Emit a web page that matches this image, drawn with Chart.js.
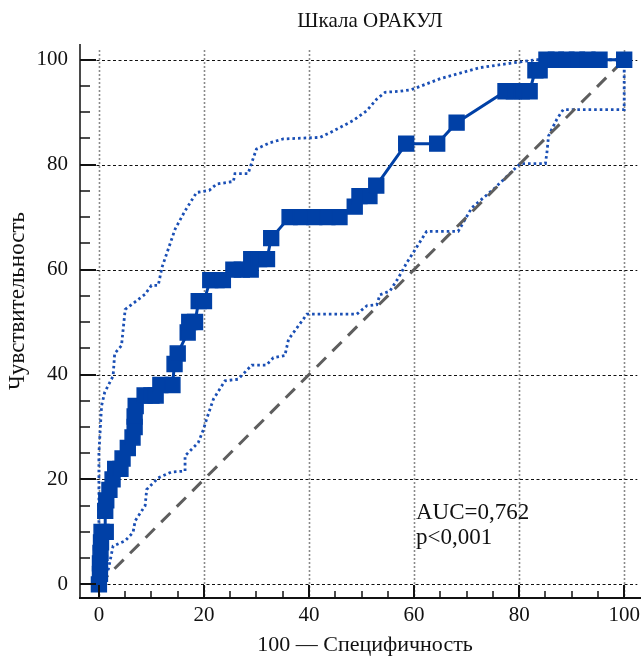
<!DOCTYPE html>
<html>
<head>
<meta charset="utf-8">
<script src="https://cdn.jsdelivr.net/npm/chart.js@4.4.1/dist/chart.umd.min.js"></script>
<style>
  html, body { margin: 0; padding: 0; background: #fff; }
  #wrap { width: 641px; height: 657px; }
</style>
</head>
<body>
<div id="wrap"><canvas id="rocChart"></canvas></div>
<script>
// ROC curve, scale "ORACUL"
const xTicks = [0, 20, 40, 60, 80, 100];
const yTicks = [0, 20, 40, 60, 80, 100];

const rocX = [0, 0.2, 0.2, 0.3, 0.4, 0.5, 1.3, 1.2, 1.4, 2.0, 2.6, 3.1, 4.1, 4.5, 5.5, 6.4, 6.8, 6.8, 7.0,
  8.7, 10.0, 10.8, 11.7, 14.0, 14.4, 15.0, 16.9, 17.2, 18.3, 19.0, 20.0, 21.2, 22.4, 23.6,
  25.6, 27.2, 28.9, 29.0, 30.5, 32.0, 32.8, 36.3, 38.5, 41.0, 43.5, 45.8, 48.7, 49.6, 51.5, 52.8,
  58.5, 64.4, 68.1, 77.4, 79.0, 80.5, 82.0, 83.1, 83.9, 85.2, 87.0, 89.0, 91.0, 93.0, 95.3, 100];
const rocY = [0, 2, 4, 6, 8, 10, 10, 14, 16, 18, 20, 22, 22, 24, 26, 28, 30, 32, 34,
  36, 36, 36, 38, 38, 42, 44, 48, 50, 50, 54, 54, 58, 58, 58,
  60, 60, 60, 62, 62, 62, 66, 70, 70, 70, 70, 70, 72, 74, 74, 76,
  84, 84, 88, 94, 94, 94, 94, 98, 98, 100, 100, 100, 100, 100, 100, 100];

const upperX = [0, 0, 0, 0.5, 1.1, 2.7, 3.0, 4.3, 5.0, 8.8, 10.0, 11.3, 12.0, 14.5, 16.4, 18.6, 21.0,
  22.4, 25.6, 25.9, 28.4, 29.1, 30.0, 32.6, 35.1, 42.1, 44.0, 48.4, 51.0, 52.9, 54.5, 57.3, 59.5,
  65.0, 72.6, 80.2, 83.4, 100];
const upperY = [0, 12, 25, 34, 36.6, 39.7, 44, 45.5, 52.4, 55.3, 57, 57, 60.4, 67.7, 71.2, 74.7, 75.1,
  76.3, 76.8, 78.3, 78.3, 80.4, 83, 84.2, 84.9, 85.2, 86.1, 88.4, 90.3, 92.5, 93.8, 94, 94.3,
  96.4, 98.5, 99.6, 100, 100];

const lowerX = [0, 1.8, 2.7, 5.0, 6.5, 6.9, 8.8, 9.1, 11.3, 13.8, 16.4, 16.4, 18.9, 19.9, 20.5, 21.8,
  24.0, 26.5, 29.1, 31.9, 33.2, 35.4, 36.1, 39.6, 49.1, 51.0, 52.9, 53.5, 55.4, 57.0, 58.6, 60.2,
  62.4, 68.4, 71.0, 75.1, 80.2, 85.0, 85.3, 85.6, 87.2, 88.4, 100, 100];
const lowerY = [0, 2.9, 7.3, 8.3, 9.9, 12.1, 15, 18.1, 20.3, 21.4, 21.6, 24.5, 27, 29.5, 31.5, 35.3,
  38.8, 39.1, 41.8, 41.8, 43.2, 43.6, 46.7, 51.5, 51.5, 53.1, 53.3, 55.2, 55.9, 58.4, 61.3, 63.8,
  67.3, 67.3, 71.8, 75.3, 80.2, 80.2, 82.4, 85.5, 88.7, 90.5, 90.5, 100];

const diagX = [0, 100];
const diagY = [0, 100];

const toPoints = (xs, ys) => xs.map((x, i) => ({ x: x, y: ys[i] }));

const SERIF = '"Liberation Serif", "Times New Roman", serif';

// grid, inward ticks, axis lines and texts
const decorPlugin = {
  id: 'decor',
  beforeDatasetsDraw(chart) {
    const { ctx, chartArea, scales } = chart;
    const xs = scales.x, ys = scales.y;
    ctx.save();
    // vertical dotted grid
    ctx.strokeStyle = '#8a8a8a';
    ctx.lineWidth = 1.6;
    ctx.setLineDash([2, 2]);
    xTicks.forEach(v => {
      const px = Math.round(xs.getPixelForValue(v)) + 0.5;
      ctx.beginPath();
      ctx.moveTo(px, chartArea.top + 6);
      ctx.lineTo(px, chartArea.bottom);
      ctx.stroke();
    });
    // horizontal dashed grid
    ctx.strokeStyle = '#111';
    ctx.lineWidth = 1;
    ctx.setLineDash([3, 2.5]);
    yTicks.forEach(v => {
      const py = Math.round(ys.getPixelForValue(v)) + 0.5;
      ctx.beginPath();
      ctx.moveTo(chartArea.left, py);
      ctx.lineTo(xs.getPixelForValue(102.5), py);
      ctx.stroke();
    });
    ctx.restore();
  },
  afterDatasetsDraw(chart) {
    const { ctx, chartArea, scales } = chart;
    const xs = scales.x, ys = scales.y;
    const L = chartArea.left, B = chartArea.bottom;
    ctx.save();
    ctx.setLineDash([]);
    // axis lines
    ctx.strokeStyle = '#4a4a4a';
    ctx.lineWidth = 2;
    ctx.beginPath();
    ctx.moveTo(L, chartArea.top);
    ctx.lineTo(L, B);
    ctx.stroke();
    ctx.strokeStyle = '#111';
    ctx.beginPath();
    ctx.moveTo(L - 1, B);
    ctx.lineTo(chartArea.right, B);
    ctx.stroke();
    // ticks
    ctx.strokeStyle = '#111';
    for (let v = 0; v <= 100; v += 5) {
      const major = v % 20 === 0;
      ctx.lineWidth = major ? 2 : 1.5;
      const py = Math.round(ys.getPixelForValue(v));
      ctx.beginPath();
      ctx.moveTo(L, py);
      ctx.lineTo(L + (major ? 16 : 10), py);
      ctx.stroke();
      const px = Math.round(xs.getPixelForValue(v));
      ctx.beginPath();
      ctx.moveTo(px, B);
      ctx.lineTo(px, B - (major ? 13 : 7));
      ctx.stroke();
    }
    // texts
    ctx.fillStyle = '#111';
    ctx.textAlign = 'center';
    ctx.textBaseline = 'middle';
    ctx.font = '21px ' + SERIF;
    ctx.fillText('Шкала ОРАКУЛ', 370, 21);
    ctx.font = '22px ' + SERIF;
    ctx.fillText('100 — Специфичность', 365, 645);
    ctx.save();
    ctx.translate(18, 301);
    ctx.rotate(-Math.PI / 2);
    ctx.font = '23px ' + SERIF;
    ctx.fillText('Чувствительность', 0, 0);
    ctx.restore();
    ctx.font = '23px ' + SERIF;
    ctx.textAlign = 'left';
    ctx.textBaseline = 'alphabetic';
    ctx.fillText('AUC=0,762', 416, 519);
    ctx.fillText('p<0,001', 416, 544);
    ctx.restore();
  }
};

const ctx = document.getElementById('rocChart').getContext('2d');
const rocChart = new Chart(ctx, {
  type: 'scatter',
  data: {
    datasets: [
      {
        label: 'ROC',
        data: toPoints(rocX, rocY),
        showLine: true,
        borderColor: '#0040a6',
        borderWidth: 3,
        pointStyle: 'rect',
        pointRadius: 10.5,
        pointBorderWidth: 1.5,
        pointBackgroundColor: '#0040a6',
        pointBorderColor: '#0040a6',
        pointHoverRadius: 10.5
      },
      {
        label: 'diag',
        data: toPoints(diagX, diagY),
        showLine: true,
        borderColor: '#5e5e5e',
        borderWidth: 3,
        borderDash: [13, 9],
        pointRadius: 0
      },
      {
        label: 'upper',
        data: toPoints(upperX, upperY),
        showLine: true,
        borderColor: '#1a4fb5',
        borderWidth: 2.8,
        borderDash: [2.6, 3],
        pointRadius: 0
      },
      {
        label: 'lower',
        data: toPoints(lowerX, lowerY),
        showLine: true,
        borderColor: '#1a4fb5',
        borderWidth: 2.8,
        borderDash: [2.6, 3],
        pointRadius: 0
      }
    ]
  },
  options: {
    responsive: true,
    maintainAspectRatio: false,
    animation: false,
    devicePixelRatio: 1,
    layout: { autoPadding: false, padding: { top: 44, left: 0, right: 0, bottom: 0 } },
    plugins: { legend: { display: false }, title: { display: false }, tooltip: { enabled: false } },
    scales: {
      x: {
        type: 'linear',
        min: -3.6,
        max: 103.2,
        grid: { display: false, drawTicks: false },
        border: { display: false },
        afterBuildTicks: s => { s.ticks = xTicks.map(v => ({ value: v })); },
        afterFit: s => { s.height = 59; s.paddingLeft = 0; s.paddingRight = 0; },
        ticks: { color: '#111', padding: 5, maxRotation: 0, font: { family: SERIF, size: 21 } }
      },
      y: {
        type: 'linear',
        min: -2.6,
        max: 103,
        grid: { display: false, drawTicks: false },
        border: { display: false },
        afterBuildTicks: s => { s.ticks = yTicks.map(v => ({ value: v })); },
        afterFit: s => { s.width = 80; s.paddingTop = 0; s.paddingBottom = 0; },
        ticks: { color: '#111', padding: 12, font: { family: SERIF, size: 21 } }
      }
    }
  },
  plugins: [decorPlugin]
});
</script>
</body>
</html>
